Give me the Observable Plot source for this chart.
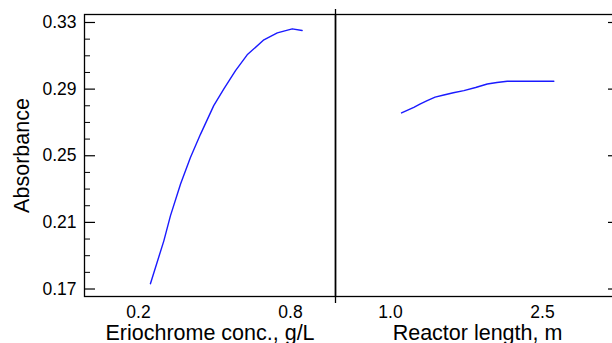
<!DOCTYPE html>
<html><head><meta charset="utf-8">
<script src="https://cdn.jsdelivr.net/npm/d3@7"></script>
<script src="https://cdn.jsdelivr.net/npm/@observablehq/plot@0.6"></script>
<style>
html,body{margin:0;padding:0;background:#fff;}
#wrap{position:relative;width:612px;height:343px;overflow:hidden;background:#fff;}
#left,#right{position:absolute;top:0;}
#left{left:0;width:336px;}
#right{left:335px;width:284px;}
svg{max-width:none !important;}
g[aria-label="x-axis label"], g[aria-label="y-axis label"]{font-size:21.5px;}
</style></head><body>
<div id="wrap"><div id="left"></div><div id="right"></div></div>
<script>
// Left panel: absorbance vs Eriochrome concentration
const eriochromeConc = [0.247, 0.300, 0.326, 0.366, 0.405, 0.445, 0.497, 0.537, 0.583, 0.629, 0.695, 0.748, 0.807, 0.846];
const absorbanceConc = [0.1732, 0.1989, 0.2139, 0.2330, 0.2490, 0.2630, 0.2801, 0.2901, 0.3011, 0.3106, 0.3196, 0.3238, 0.3262, 0.3252];
// Right panel: absorbance vs reactor length
const reactorLength = [1.109, 1.230, 1.290, 1.362, 1.440, 1.526, 1.620, 1.724, 1.840, 1.955, 2.050, 2.152, 2.415, 2.612];
const absorbanceLength = [0.2757, 0.2791, 0.2810, 0.2831, 0.2852, 0.2865, 0.2878, 0.2891, 0.2910, 0.2931, 0.2940, 0.2947, 0.2947, 0.2947];
// Axis ticks
const yMajorTicks = [0.17, 0.21, 0.25, 0.29, 0.33];
const yMinorTicks = [0.18, 0.19, 0.20, 0.22, 0.23, 0.24, 0.26, 0.27, 0.28, 0.30, 0.31, 0.32];
const concTicks = [0.2, 0.8];
const lengthTicks = [1.0, 2.5];
const yDomain = [0.1655, 0.3348];
const concDomain = [-0.0132, 0.9777];
const lengthDomain = [0.457, 3.26];

const font = '"Liberation Sans", Arial, Helvetica, sans-serif';
const common = {
  height: 343, marginTop: 14, marginBottom: 47,
  style: {fontFamily: font, fontSize: "17.5px", color: "#000", background: "transparent", overflow: "visible", maxWidth: "none"}
};
const blue = "#1a1aff";

const concData = eriochromeConc.map((c, i) => ({c, a: absorbanceConc[i]}));
const lenData = reactorLength.map((l, i) => ({l, a: absorbanceLength[i]}));

// left panel inner frame width = 336 - 84 - 1 = 251
const left = Plot.plot({
  ...common,
  width: 336, marginLeft: 84, marginRight: 1,
  x: {domain: concDomain},
  y: {domain: yDomain},
  marks: [
    Plot.frame({strokeWidth: 1.3}),
    Plot.ruleX([concDomain[1]], {insetTop: -5, insetBottom: -7, strokeWidth: 1.3}),
    Plot.tickY(yMinorTicks, {insetRight: 251 - 6, strokeWidth: 1}),
    Plot.tickY(yMajorTicks, {insetRight: 251 - 11, strokeWidth: 1.2}),
    Plot.axisY({ticks: yMajorTicks, tickSize: 0, tickPadding: 8, tickFormat: d3.format(".2f"),
      label: "Absorbance", labelAnchor: "center", labelArrow: "none", labelOffset: 71}),
    Plot.axisX({ticks: concTicks, tickSize: 0, tickPadding: 9, tickFormat: d3.format(".1f"),
      label: "Eriochrome conc., g/L", labelAnchor: "center", labelArrow: "none", labelOffset: 43}),
    Plot.line(concData, {x: "c", y: "a", stroke: blue, strokeWidth: 1.4})
  ]
});

// right panel inner frame width = 284
const right = Plot.plot({
  ...common,
  width: 284, marginLeft: 0, marginRight: 0,
  x: {domain: lengthDomain},
  y: {domain: yDomain, axis: null},
  marks: [
    Plot.frame({strokeWidth: 1.3}),
    Plot.tickY(yMinorTicks, {insetLeft: 284 - 6, strokeWidth: 1}),
    Plot.tickY(yMajorTicks, {insetLeft: 284 - 11, strokeWidth: 1.2}),
    Plot.axisX({ticks: lengthTicks, tickSize: 0, tickPadding: 9, tickFormat: d3.format(".1f"),
      label: "Reactor length, m", labelAnchor: "center", labelArrow: "none", labelOffset: 43}),
    Plot.line(lenData, {x: "l", y: "a", stroke: blue, strokeWidth: 1.4})
  ]
});

document.getElementById("left").appendChild(left);
document.getElementById("right").appendChild(right);
</script>
</body></html>
